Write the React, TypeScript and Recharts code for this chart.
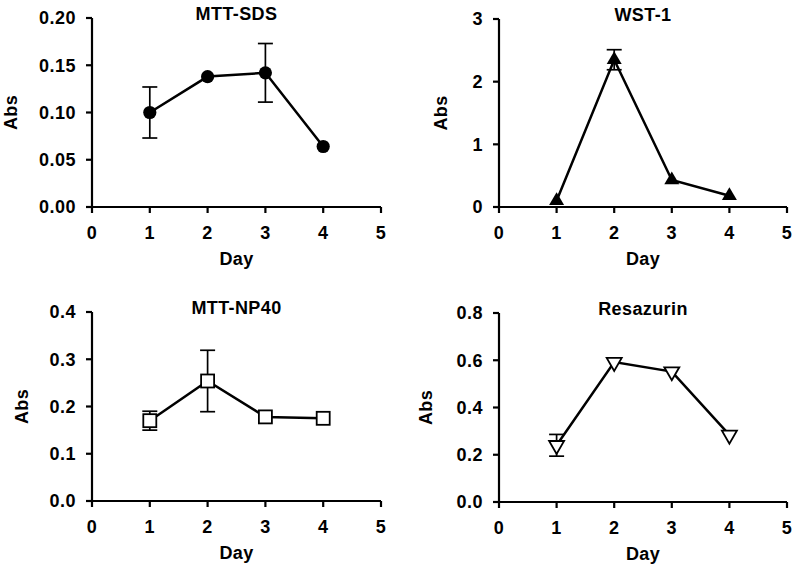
import { LineChart, Line, XAxis, YAxis, ErrorBar } from "recharts"

// days on the x axis
const days = [1, 2, 3, 4]
const dayTicks = [0, 1, 2, 3, 4, 5]

const mttSds = [0.1, 0.138, 0.142, 0.064]
const mttSdsErr = [0.027, null, 0.031, null]
const mttSdsTicks = [0, 0.05, 0.1, 0.15, 0.2]

const wst1 = [0.1, 2.35, 0.43, 0.18]
const wst1Err = [null, 0.16, null, null]
const wst1Ticks = [0, 1, 2, 3]

const mttNp40 = [0.17, 0.254, 0.178, 0.175]
const mttNp40Err = [0.02, 0.065, null, null]
const mttNp40Ticks = [0, 0.1, 0.2, 0.3, 0.4]

const resazurin = [0.24, 0.592, 0.552, 0.284]
const resazurinErr = [0.046, null, null, null]
const resazurinTicks = [0, 0.2, 0.4, 0.6, 0.8]

const font = "'Liberation Sans', Arial, Helvetica, sans-serif"

type Marker = "circle" | "triangle" | "square" | "triangleDown"

function makeDot(marker: Marker) {
  return (props: any) => {
    const { cx, cy, index } = props
    if (cx == null || cy == null) return <g key={`d-${index}`} />
    if (marker === "circle") {
      return <circle key={`d-${index}`} cx={cx} cy={cy} r={6.6} fill="#000" />
    }
    if (marker === "triangle") {
      const pts = `${cx},${cy - 8.5} ${cx - 7.5},${cy + 4.3} ${cx + 7.5},${cy + 4.3}`
      return <polygon key={`d-${index}`} points={pts} fill="#000" />
    }
    if (marker === "square") {
      return (
        <rect key={`d-${index}`} x={cx - 6.5} y={cy - 6.5} width={13} height={13}
          fill="#fff" stroke="#000" strokeWidth={1.8} />
      )
    }
    const pts = `${cx - 7.5},${cy - 4.3} ${cx + 7.5},${cy - 4.3} ${cx},${cy + 8.7}`
    return <polygon key={`d-${index}`} points={pts} fill="#fff" stroke="#000" strokeWidth={1.8} />
  }
}

interface PanelProps {
  title: string
  values: number[]
  errors: (number | null)[]
  yTicks: number[]
  digits: number
  marker: Marker
  left: number
  top: number
  width: number
  height: number
  marginTop: number
  marginRight: number
  xAxisHeight: number
  yAxisWidth: number
  absX: number
}

function Panel(p: PanelProps) {
  const data = days.map((d, i) => ({ day: d, v: p.values[i], err: p.errors[i] }))
  const tickStyle = { fill: "#000", fontSize: 18, fontWeight: "bold", fontFamily: font, letterSpacing: 0.5 }
  const labelProps = { fontSize: 18, fontWeight: "bold", fontFamily: font, letterSpacing: 0.4, fill: "#000" }

  return (
    <div style={{ position: "absolute", left: p.left, top: p.top }}>
      <LineChart width={p.width} height={p.height} data={data}
        margin={{ top: p.marginTop, right: p.marginRight, bottom: 0, left: 0 }}>
        <XAxis
          dataKey="day"
          type="number"
          domain={[0, 5]}
          ticks={dayTicks}
          interval={0}
          height={p.xAxisHeight}
          axisLine={{ stroke: "#000", strokeWidth: 2.2 }}
          tickLine={{ stroke: "#000", strokeWidth: 2.2 }}
          tickSize={6}
          tickMargin={13}
          tick={tickStyle}
          label={(lp: any) => {
            const vb = lp.viewBox
            const cx = vb.x + vb.width / 2
            return (
              <g>
                <text x={cx} y={vb.y + 58} textAnchor="middle" {...labelProps}>Day</text>
                <text x={cx} y={p.marginTop + 2} textAnchor="middle" {...labelProps}>{p.title}</text>
              </g>
            )
          }}
        />
        <YAxis
          type="number"
          domain={[p.yTicks[0], p.yTicks[p.yTicks.length - 1]]}
          ticks={p.yTicks}
          interval={0}
          width={p.yAxisWidth}
          axisLine={{ stroke: "#000", strokeWidth: 2.2 }}
          tickLine={{ stroke: "#000", strokeWidth: 2.2 }}
          tickSize={6}
          tickMargin={10}
          tick={tickStyle}
          tickFormatter={(v: number) => v.toFixed(p.digits)}
          label={(lp: any) => {
            const vb = lp.viewBox
            const cx = vb.x + p.absX
            const cy = vb.y + vb.height / 2
            return (
              <text x={cx} y={cy} transform={`rotate(-90 ${cx} ${cy})`} textAnchor="middle"
                dominantBaseline="central" {...labelProps}>Abs</text>
            )
          }}
        />
        <Line
          type="linear"
          dataKey="v"
          stroke="#000"
          strokeWidth={2.5}
          dot={makeDot(p.marker)}
          activeDot={false}
          isAnimationActive={false}
        >
          <ErrorBar dataKey="err" width={7.5} stroke="#000" strokeWidth={1.7} isAnimationActive={false} />
        </Line>
      </LineChart>
    </div>
  )
}

export default function App() {
  return (
    <div style={{ position: "absolute", left: 0, top: 0, width: 795, height: 569, background: "#fff" }}>
      <Panel title="MTT-SDS" values={mttSds} errors={mttSdsErr} yTicks={mttSdsTicks} digits={2}
        marker="circle" left={0} top={0} width={397} height={280}
        marginTop={18} marginRight={16} xAxisHeight={73} yAxisWidth={92} absX={11} />
      <Panel title="WST-1" values={wst1} errors={wst1Err} yTicks={wst1Ticks} digits={0}
        marker="triangle" left={397} top={0} width={398} height={280}
        marginTop={19} marginRight={8} xAxisHeight={73} yAxisWidth={102} absX={44} />
      <Panel title="MTT-NP40" values={mttNp40} errors={mttNp40Err} yTicks={mttNp40Ticks} digits={1}
        marker="square" left={0} top={280} width={397} height={289}
        marginTop={32} marginRight={16} xAxisHeight={68} yAxisWidth={92} absX={22} />
      <Panel title="Resazurin" values={resazurin} errors={resazurinErr} yTicks={resazurinTicks} digits={1}
        marker="triangleDown" left={397} top={280} width={398} height={289}
        marginTop={33} marginRight={8} xAxisHeight={67} yAxisWidth={102} absX={29} />
    </div>
  )
}
